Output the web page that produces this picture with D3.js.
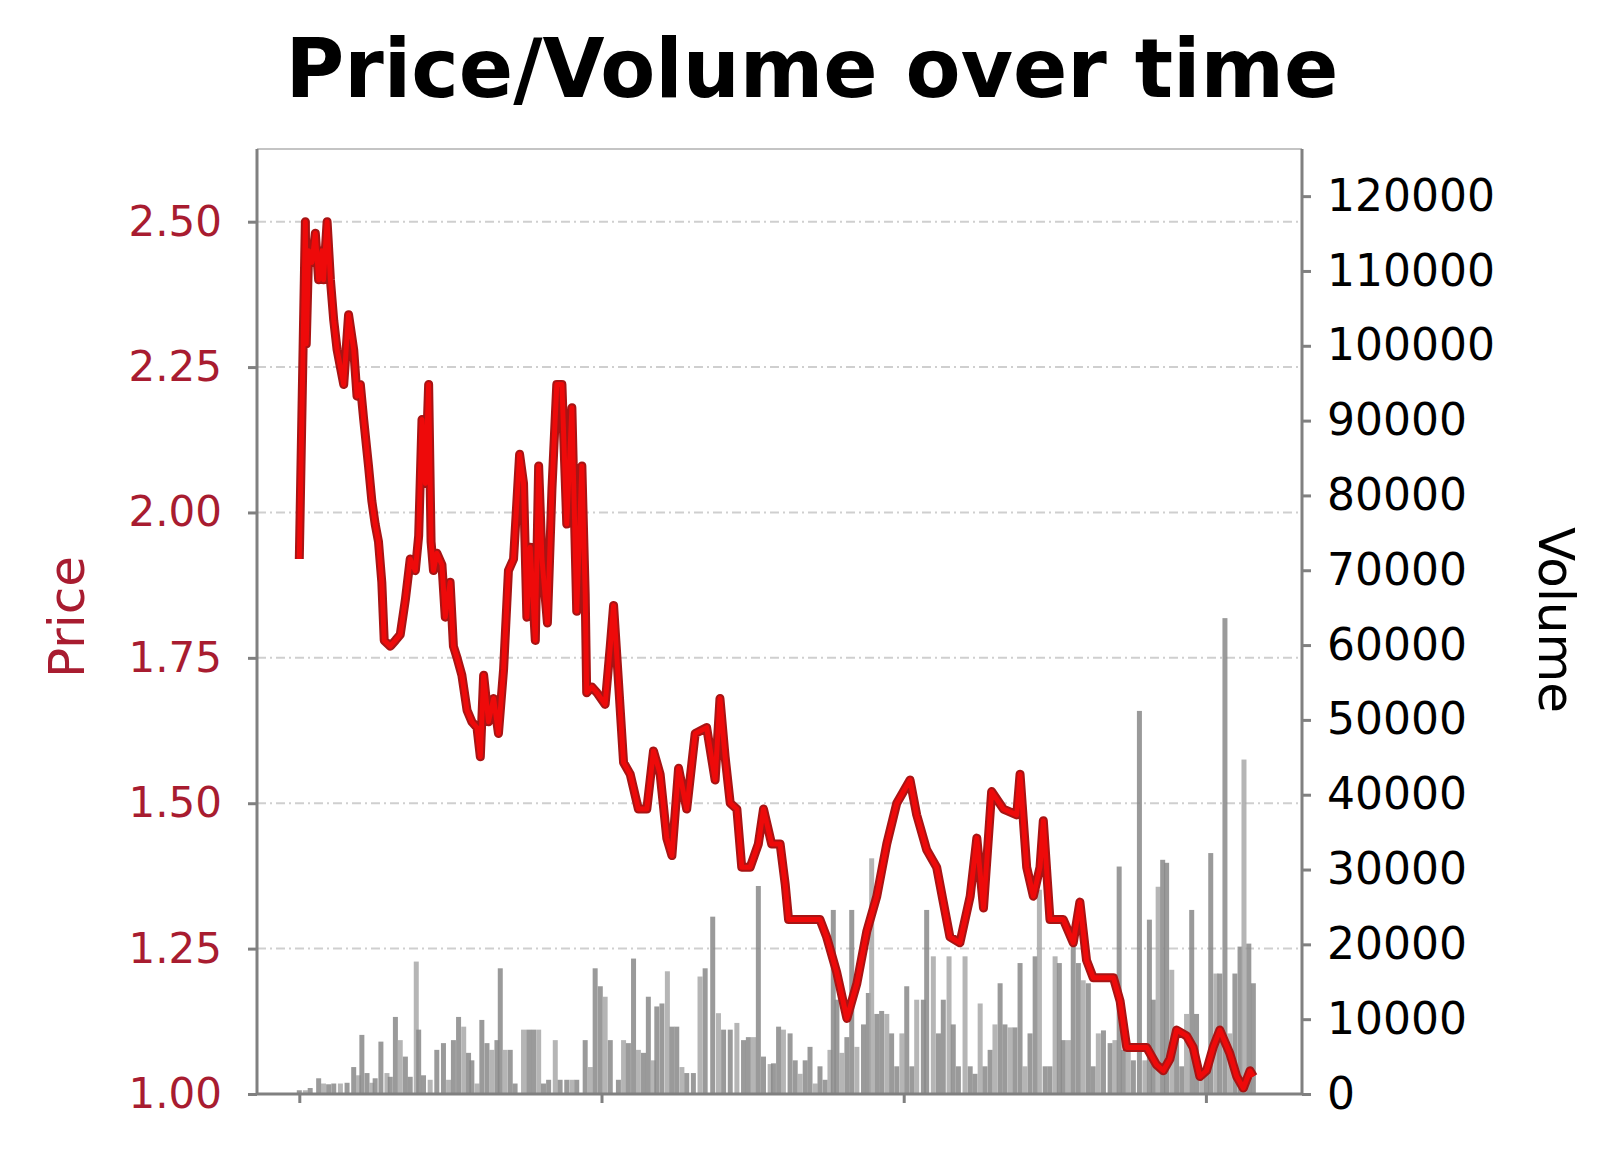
<!DOCTYPE html>
<html>
<head>
<meta charset="utf-8">
<script src="https://cdn.jsdelivr.net/npm/d3@7"></script>
<style>
body{margin:0;background:#fff;}
</style>
</head>
<body>
<svg id="chart" width="1600" height="1171"></svg>
<script>
var priceDays=[0,2,2.3,3.1,4.2,5.3,6.4,7.5,8,9.2,10.3,11.4,12.5,13.6,14.7,16.3,18,19.1,20.2,21.3,22.9,24,25.1,26.2,27.3,28.1,30.1,31.8,33.4,35.1,36.7,38.4,39.5,40.6,41.7,42.8,43.6,44.4,45.5,47.2,48.3,49.9,51,52.2,53.8,55.5,57.1,58.8,59.9,61,62.6,64.3,65.9,67.6,69.2,70.9,72.9,74.2,75.3,76.4,78.1,79.2,80.3,82.1,83.6,85.2,86.9,88.5,90.2,91.8,93.5,94.6,95.1,96.8,98.5,101.2,102.9,104,105.6,107.3,109.5,112.2,115,117.2,119.4,121.6,123.3,125.5,128.2,131,134.8,137.6,139.2,140.9,142.6,144.8,146.4,149.2,151.9,153.6,156.3,159.1,160.8,161.9,166.8,172.3,174.5,177.8,181.2,184.5,187.8,191.1,194.4,197.7,202.1,204.3,207.6,210.9,213.1,215.3,218.6,222,224.2,226.4,229.1,233,237.4,238.5,240.7,242.9,245.1,246.2,248.4,252.8,256.1,258.3,260.5,262.7,266.1,269.4,271.6,273.8,277.1,280.4,283.7,285.9,288.1,290.3,293.6,295.8,298,300.2,302.4,304.6,307.9,310.2,312.4,314.6,315.7];
var prices=[1.92,2.5,2.29,2.45,2.43,2.48,2.4,2.45,2.4,2.5,2.4,2.33,2.28,2.25,2.22,2.34,2.28,2.2,2.22,2.16,2.08,2.02,1.98,1.95,1.88,1.78,1.77,1.78,1.79,1.85,1.92,1.9,1.96,2.16,2.05,2.22,1.95,1.9,1.93,1.91,1.82,1.88,1.77,1.75,1.72,1.66,1.64,1.63,1.58,1.72,1.64,1.68,1.62,1.73,1.9,1.92,2.1,2.05,1.82,1.94,1.78,2.08,1.92,1.81,2.04,2.22,2.22,1.98,2.18,1.83,2.08,1.86,1.69,1.7,1.69,1.67,1.77,1.84,1.71,1.57,1.55,1.49,1.49,1.59,1.55,1.44,1.41,1.56,1.49,1.62,1.63,1.54,1.68,1.58,1.5,1.49,1.39,1.39,1.43,1.49,1.43,1.43,1.36,1.3,1.3,1.3,1.27,1.21,1.13,1.19,1.28,1.34,1.43,1.5,1.54,1.48,1.42,1.39,1.33,1.27,1.26,1.34,1.44,1.32,1.52,1.49,1.48,1.55,1.39,1.34,1.39,1.47,1.3,1.3,1.26,1.33,1.23,1.2,1.2,1.2,1.16,1.08,1.08,1.08,1.05,1.04,1.06,1.11,1.1,1.08,1.03,1.04,1.08,1.11,1.07,1.03,1.01,1.04,1.03];
var volumeDays=[0,2,3.6,6.4,8,9.7,11.4,13.6,15.8,18,19.6,20.7,22.4,24,25.1,27,29,30.1,31.8,33.4,35.1,36.7,38.7,39.5,41.1,43.3,45.5,47.7,49.4,51,52.7,54.4,56,57.1,58.8,60.4,62.1,63.7,65.4,66.5,68.1,69.8,71.4,74.2,75.9,77.5,79.2,80.8,82.5,84.7,86.3,88.5,90.2,91.8,94.6,96.3,97.9,99.6,101.2,102.9,105.6,107.3,108.9,110.6,112.2,113.9,115.5,117.2,118.3,120,121.8,123.3,124.9,126.6,128.2,130.4,132.6,134.3,136.8,138.7,140.4,142.6,144.8,147,148.6,150.3,151.9,153.6,155.8,156.9,158.6,160.2,162.4,164.1,165.7,167.4,169,170.7,172.3,174,175.6,176.7,177.9,179.5,181.2,182.8,184.5,186.7,188.3,189.4,191.1,192.7,194.4,196,197.7,199.4,201,202.7,204.3,206.5,207.6,209.8,211.5,213.1,215,216.4,218.1,220.3,222,223.6,225.3,226.9,228.6,230.2,231.9,233.5,235.2,236.8,238.5,240.1,241.8,243.5,244.9,246.8,248.4,250.1,251.5,252.8,254.5,256.1,257.8,259.4,261.1,262.7,264.4,266.1,268.3,269.9,271.3,272.7,274.3,276,278,279.8,281.3,282.6,284.2,285.7,287,288.7,290.3,292,293.6,295.3,296.9,298.6,300.2,301.6,303.3,304.6,306.3,307.9,309.6,311.3,312.6,314.2,315.7];
var volumes=[500,500,800,2100,1400,1300,1400,1400,1500,3600,2500,7900,2800,1500,2100,7000,2800,2300,10300,7200,5000,2300,17700,8600,2500,1900,5900,6800,1900,7200,10300,9000,5500,4500,1400,9900,6800,5900,7200,16800,5900,5900,1400,8600,8600,8600,8600,1400,1900,7200,1900,1900,1900,1900,7200,3600,16800,14400,13000,7200,1900,7200,6800,18100,5900,5500,13000,4500,11700,12100,16400,9000,9000,3600,2800,2800,15700,16800,23700,10800,8600,8600,9500,7200,7600,7600,27800,5000,4000,4100,9000,8600,8100,4500,2700,4500,6300,1400,3700,1900,5900,24600,12600,5500,7600,24600,6300,9300,13500,31500,10700,11100,10700,8100,3700,8100,14400,3700,12600,12600,24600,18400,8100,12600,18400,9300,3700,18400,3700,2700,12100,3700,5900,9300,14800,9300,8900,8900,17500,3700,8100,18400,27300,3700,3700,18400,17500,7200,7200,19700,17500,15200,14800,3700,8100,8500,6800,7200,30400,5900,5900,4500,51200,4500,23300,12600,27700,31300,30900,16600,7200,3700,10700,24600,10700,3200,3700,32200,16100,16100,63600,8100,16100,19700,44700,20100,14800];
var priceTicks=[1.00,1.25,1.50,1.75,2.00,2.25,2.50];
var volumeTicks=[0,10000,20000,30000,40000,50000,60000,70000,80000,90000,100000,110000,120000];
var dayTicks=[0,100,200,300];

var svg=d3.select("#chart");
var plotL=257,plotR=1302,plotT=149,plotB=1094;

var x=d3.scaleLinear().domain([-14,331.8]).range([plotL,plotR]);
var yPrice=d3.scaleLinear().domain([1.0,2.625]).range([plotB,plotT]);
var yVol=d3.scaleLinear().domain([0,126300]).range([plotB,plotT]);

svg.append("rect")
   .attr("width",1600)
   .attr("height",1171)
   .style("fill","#fff");

svg.append("text")
   .attr("x",812)
   .attr("y",97)
   .attr("text-anchor","middle")
   .attr("textLength",1053)
   .attr("lengthAdjust","spacingAndGlyphs")
   .style("font-family","DejaVu Sans")
   .style("font-weight","bold")
   .style("font-size","82px")
   .style("fill","#000")
   .text("Price/Volume over time");

// grid
svg.append("g")
   .selectAll("line")
   .data(priceTicks.filter(function(d){return d>1;}))
   .enter().append("line")
   .attr("x1",plotL)
   .attr("x2",plotR)
   .attr("y1",function(d){return yPrice(d);})
   .attr("y2",function(d){return yPrice(d);})
   .style("stroke","#cfcfcf")
   .style("stroke-width",2)
   .style("stroke-dasharray","9,4,2,4");

svg.append("line")
   .attr("x1",plotL).attr("x2",plotR)
   .attr("y1",plotT).attr("y2",plotT)
   .style("stroke","#c4c4c4")
   .style("stroke-width",2);

// volume bars
var vol=volumeDays.map(function(d,i){return [d,volumes[i]];});
svg.append("g")
   .selectAll("rect")
   .data(vol)
   .enter().append("rect")
   .attr("x",function(d){return x(d[0])-2.5;})
   .attr("width",5)
   .attr("y",function(d){return yVol(d[1]);})
   .attr("height",function(d){return plotB-yVol(d[1]);})
   .style("fill",function(d,i){return i%3==1?"#a8a8a8":"#888888";})
   .style("opacity",0.85);

// price line
var pts=priceDays.map(function(d,i){return [d,prices[i]];});
var line=d3.line()
   .x(function(d){return x(d[0]);})
   .y(function(d){return yPrice(d[1]);});
svg.append("path")
   .datum(pts)
   .attr("d",line)
   .style("fill","none")
   .style("stroke","#a81414")
   .style("stroke-width",9)
   .style("stroke-linejoin","round");
svg.append("path")
   .datum(pts)
   .attr("d",line)
   .style("fill","none")
   .style("stroke","#ee0a0a")
   .style("stroke-width",5)
   .style("stroke-linejoin","round");

// axes
var gLeft=svg.append("g")
   .attr("transform","translate("+plotL+",0)")
   .call(d3.axisLeft(yPrice).tickValues(priceTicks).tickFormat(d3.format(".2f")).tickSize(9).tickPadding(26));
gLeft.selectAll("text")
   .style("font-family","DejaVu Sans")
   .style("font-size","42px")
   .style("fill","#a81c30");

var gRight=svg.append("g")
   .attr("transform","translate("+plotR+",0)")
   .call(d3.axisRight(yVol).tickValues(volumeTicks).tickFormat(d3.format("d")).tickSize(9).tickPadding(16));
gRight.selectAll("text")
   .style("font-family","DejaVu Sans")
   .style("font-size","44px")
   .style("fill","#000");

var gBottom=svg.append("g")
   .attr("transform","translate(0,"+plotB+")")
   .call(d3.axisBottom(x).tickValues(dayTicks).tickFormat("").tickSize(9));

svg.selectAll(".domain,.tick line")
   .style("stroke","#808080")
   .style("stroke-width",3);
gLeft.select(".domain").attr("d","M0,"+plotT+"V"+plotB);
gRight.select(".domain").attr("d","M0,"+plotT+"V"+plotB);
gBottom.select(".domain").attr("d","M"+plotL+",0H"+plotR);

svg.append("text")
   .attr("transform","translate(66,617) rotate(-90)")
   .attr("text-anchor","middle")
   .attr("dy","0.35em")
   .style("font-family","DejaVu Sans")
   .style("font-size","50px")
   .style("fill","#a81c30")
   .text("Price");

svg.append("text")
   .attr("transform","translate(1556,620) rotate(90)")
   .attr("text-anchor","middle")
   .attr("dy","0.35em")
   .style("font-family","DejaVu Sans")
   .style("font-size","50px")
   .style("fill","#000")
   .text("Volume");
</script>
</body>
</html>
